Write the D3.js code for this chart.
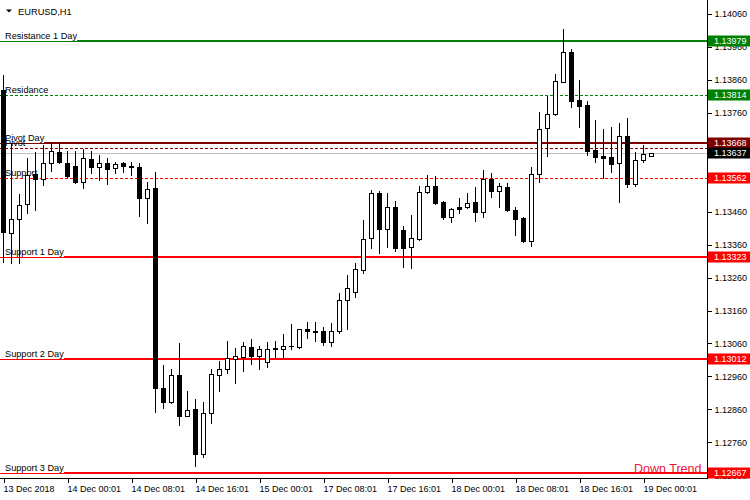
<!DOCTYPE html>
<html><head><meta charset="utf-8">
<script src="https://cdn.jsdelivr.net/npm/d3@7"></script>
<style>
body{margin:0;background:#fff}
svg{display:block}
text{font-family:"Liberation Sans",Arial,sans-serif}
</style>
</head><body><svg id="c" width="750" height="500"></svg>
<script>
// ---------- DATA ----------
const symbolLabel = "EURUSD,H1";
const openP = [1.13829,1.13395,1.13437,1.13483,1.13574,1.13559,1.13608,1.13641,1.13608,1.13598,
1.13550,1.13620,1.13595,1.13608,1.13592,1.13608,1.13598,1.13595,1.13501,1.13532,
1.12924,1.12882,1.12964,1.12839,1.12860,1.12724,1.12848,1.12964,1.12982,1.13012,
1.13018,1.13049,1.13021,1.13003,1.13046,1.13043,1.13052,1.13049,1.13103,1.13097,
1.13097,1.13064,1.13097,1.13191,1.13216,1.13283,1.13380,1.13516,1.13407,1.13474,
1.13404,1.13352,1.13377,1.13519,1.13538,1.13489,1.13444,1.13474,1.13474,1.13489,
1.13459,1.13559,1.13522,1.13535,1.13465,1.13440,1.13371,1.13574,1.13714,1.13756,
1.13854,1.13945,1.13799,1.13784,1.13647,1.13629,1.13626,1.13608,1.13690,1.13544,
1.13617,1.13629];
const highP = [1.13875,1.13668,1.13513,1.13623,1.13641,1.13662,1.13671,1.13671,1.13644,1.13644,
1.13650,1.13644,1.13632,1.13623,1.13611,1.13611,1.13611,1.13608,1.13550,1.13580,
1.12994,1.12982,1.13061,1.12915,1.12891,1.12882,1.12982,1.13006,1.13067,1.13046,
1.13064,1.13073,1.13052,1.13064,1.13067,1.13088,1.13119,1.13103,1.13125,1.13125,
1.13109,1.13122,1.13213,1.13267,1.13304,1.13434,1.13525,1.13522,1.13516,1.13492,
1.13416,1.13450,1.13538,1.13571,1.13568,1.13492,1.13471,1.13501,1.13516,1.13535,
1.13586,1.13577,1.13547,1.13547,1.13474,1.13444,1.13595,1.13762,1.13811,1.13878,
1.14014,1.13954,1.13860,1.13796,1.13738,1.13711,1.13717,1.13729,1.13744,1.13641,
1.13662,1.13638];
const lowP = [1.13307,1.13304,1.13304,1.13456,1.13465,1.13541,1.13583,1.13608,1.13565,1.13547,
1.13532,1.13577,1.13556,1.13544,1.13577,1.13580,1.13571,1.13447,1.13425,1.12851,
1.12863,1.12879,1.12812,1.12839,1.12687,1.12715,1.12818,1.12915,1.12970,1.12939,
1.12976,1.12997,1.12982,1.12988,1.13018,1.13018,1.13043,1.13046,1.13076,1.13067,
1.13055,1.13052,1.13091,1.13103,1.13200,1.13273,1.13349,1.13334,1.13352,1.13340,
1.13292,1.13289,1.13374,1.13516,1.13483,1.13437,1.13428,1.13456,1.13471,1.13431,
1.13444,1.13504,1.13474,1.13462,1.13389,1.13368,1.13355,1.13550,1.13629,1.13753,
1.13854,1.13778,1.13717,1.13632,1.13611,1.13562,1.13580,1.13489,1.13535,1.13538,
1.13611,1.13629];
const closeP = [1.13398,1.13437,1.13480,1.13571,1.13559,1.13608,1.13644,1.13611,1.13568,1.13550,
1.13623,1.13595,1.13608,1.13589,1.13604,1.13598,1.13597,1.13501,1.13529,1.12924,
1.12882,1.12964,1.12839,1.12857,1.12724,1.12848,1.12967,1.12982,1.13015,1.13021,
1.13052,1.13021,1.13043,1.13043,1.13043,1.13052,1.13051,1.13103,1.13097,1.13094,
1.13064,1.13097,1.13191,1.13228,1.13286,1.13377,1.13516,1.13407,1.13474,1.13349,
1.13349,1.13380,1.13519,1.13538,1.13486,1.13444,1.13468,1.13468,1.13486,1.13459,
1.13559,1.13522,1.13538,1.13465,1.13437,1.13371,1.13574,1.13711,1.13756,1.13857,
1.13945,1.13796,1.13781,1.13644,1.13626,1.13623,1.13604,1.13690,1.13544,1.13617,
1.13635,1.13637];

const timeTickIndex = [0,8,16,24,32,40,48,56,64,72,80];
const timeTickLabels = ["13 Dec 2018","14 Dec 00:01","14 Dec 08:01","14 Dec 16:01","15 Dec 00:01",
  "17 Dec 08:01","17 Dec 16:01","18 Dec 00:01","18 Dec 08:01","18 Dec 16:01","19 Dec 00:01"];
const priceTicks = [1.12660,1.12760,1.12860,1.12960,1.13060,1.13160,1.13260,1.13360,1.13460,
  1.13560,1.13660,1.13760,1.13860,1.13960,1.14060];

const levelNames  = ["Pivot","Resistance 1 Day","Residance","Pivot Day","Support","Support 1 Day","Support 2 Day","Support 3 Day"];
const levelValues = [1.13652,1.13979,1.13814,1.13668,1.13562,1.13323,1.13012,1.12667];
const bidPrice = 1.13637;
const trendLabel = "Down Trend";

// ---------- STYLES ----------
const levelStyle = {
  "Pivot":            {color:"#800000", dash:"3,2", w:1},
  "Resistance 1 Day": {color:"#008000", dash:null,  w:2},
  "Residance":        {color:"#008000", dash:"3,2", w:1},
  "Pivot Day":        {color:"#800000", dash:null,  w:2},
  "Support":          {color:"#ff0000", dash:"3,2", w:1},
  "Support 1 Day":    {color:"#ff0000", dash:null,  w:2},
  "Support 2 Day":    {color:"#ff0000", dash:null,  w:2},
  "Support 3 Day":    {color:"#ff0000", dash:null,  w:2}
};

const W = 750, H = 500, plotR = 707, plotB = 478;
const svg = d3.select("#c");

const x = d3.scaleLinear().domain([0, 81]).range([3.5, 3.5 + 8*81]);
const y = d3.scaleLinear().domain([1.14060, 1.12760]).range([14, 442.3]);
const fmt = d3.format(".5f");

// Level lines
const gLines = svg.append("g").attr("shape-rendering","crispEdges");
levelNames.forEach((name, i) => {
  const st = levelStyle[name];
  const ly = Math.round(y(levelValues[i]));
  if (st.dash) {
    gLines.append("line").attr("x1",0).attr("x2",plotR).attr("y1",ly+0.5).attr("y2",ly+0.5)
      .attr("stroke",st.color).attr("stroke-width",1).attr("stroke-dasharray",st.dash);
  }
});
// bid line
const by = Math.round(y(bidPrice)) + 0.5;
gLines.append("line").attr("x1",0).attr("x2",plotR).attr("y1",by).attr("y2",by)
  .attr("stroke","#c0c0c0").attr("stroke-width",1);

// Left labels
const gLab = svg.append("g").attr("font-size","9.2px").attr("fill","#000");
levelNames.forEach((name, i) => {
  const st = levelStyle[name];
  const ly = Math.round(y(levelValues[i]));
  const t = gLab.append("text").attr("x",5).attr("y",ly-2).text(name);
  if (!st.dash) {
    const tw = t.node().getComputedTextLength();
    gLines.append("line").attr("x1",0).attr("x2",5+tw).attr("y1",ly+0.5).attr("y2",ly+0.5)
      .attr("stroke",st.color).attr("stroke-width",1);
    gLines.append("line").attr("x1",5+tw).attr("x2",plotR).attr("y1",ly).attr("y2",ly)
      .attr("stroke",st.color).attr("stroke-width",st.w);
  }
});

// Candles
const idx = d3.range(openP.length);
const gC = svg.append("g").attr("shape-rendering","crispEdges");
idx.forEach(i => {
  const cx = Math.round(x(i) - 0.5) + 0.5;
  const o = y(openP[i]), c = y(closeP[i]), h = y(highP[i]), l = y(lowP[i]);
  gC.append("line").attr("x1",cx).attr("x2",cx).attr("y1",Math.round(h)).attr("y2",Math.round(l)+1)
    .attr("stroke","#000").attr("stroke-width",1);
  const top = Math.round(Math.min(o,c)), bot = Math.round(Math.max(o,c));
  const bull = closeP[i] > openP[i];
  if (bot - top < 1) {
    gC.append("line").attr("x1",cx-2.5).attr("x2",cx+2.5).attr("y1",top+0.5).attr("y2",top+0.5)
      .attr("stroke","#000").attr("stroke-width",1);
  } else {
    gC.append("rect").attr("x",cx-2).attr("y",top+0.5).attr("width",4).attr("height",bot-top)
      .attr("fill", bull ? "#fff" : "#000").attr("stroke","#000").attr("stroke-width",1);
  }
});

// Frame
svg.append("line").attr("x1",plotR+0.5).attr("x2",plotR+0.5).attr("y1",0).attr("y2",plotB+1)
  .attr("stroke","#000");
svg.append("line").attr("x1",0).attr("x2",plotR+1).attr("y1",plotB+0.5).attr("y2",plotB+0.5)
  .attr("stroke","#000");

// Right axis
const yAxis = d3.axisRight(y).tickValues(priceTicks).tickFormat(fmt).tickSize(4).tickPadding(3);
const gy = svg.append("g").attr("transform",`translate(${plotR+0.5},0)`).call(yAxis);
gy.select(".domain").remove();
gy.selectAll("text").attr("font-size","9px").attr("font-family","Liberation Sans, Arial, sans-serif").attr("fill","#000");
gy.selectAll("line").attr("stroke","#000").attr("shape-rendering","crispEdges");

// Bottom axis
const xAxis = d3.axisBottom(x).tickValues(timeTickIndex).tickFormat((d,i)=>timeTickLabels[i]).tickSize(4).tickPadding(3);
const gx = svg.append("g").attr("transform",`translate(0,${plotB+0.5})`).call(xAxis);
gx.select(".domain").remove();
gx.selectAll("text").attr("text-anchor","start").attr("dx","-0.5").attr("font-size","9px")
  .attr("font-family","Liberation Sans, Arial, sans-serif").attr("fill","#000");
gx.selectAll("line").attr("stroke","#000").attr("shape-rendering","crispEdges");

// Price boxes
function priceBox(val, color){
  const cy = Math.round(y(val)) - 0.5;
  const g = svg.append("g");
  g.append("rect").attr("x",708).attr("y",cy-5).attr("width",42).attr("height",11).attr("fill",color);
  g.append("text").attr("x",714).attr("y",cy+3.5).attr("font-size","9px").attr("fill","#fff").text(fmt(val));
}
levelNames.forEach((name,i)=>{ if(name==="Pivot") priceBox(levelValues[i], levelStyle[name].color); });
levelNames.forEach((name,i)=>{ if(name!=="Pivot") priceBox(levelValues[i], levelStyle[name].color); });
priceBox(bidPrice, "#000");

// Title
svg.append("path").attr("d","M6,9.5 L12,9.5 L9,12.5 Z").attr("fill","#000");
svg.append("text").attr("x",18).attr("y",14.5).attr("font-size","9.3px").attr("fill","#000").text(symbolLabel);

// Down Trend label
svg.append("text").attr("x",634).attr("y",472.5).attr("font-size","12.5px").attr("fill","#f0143c").text(trendLabel);
</script>
</body></html>
